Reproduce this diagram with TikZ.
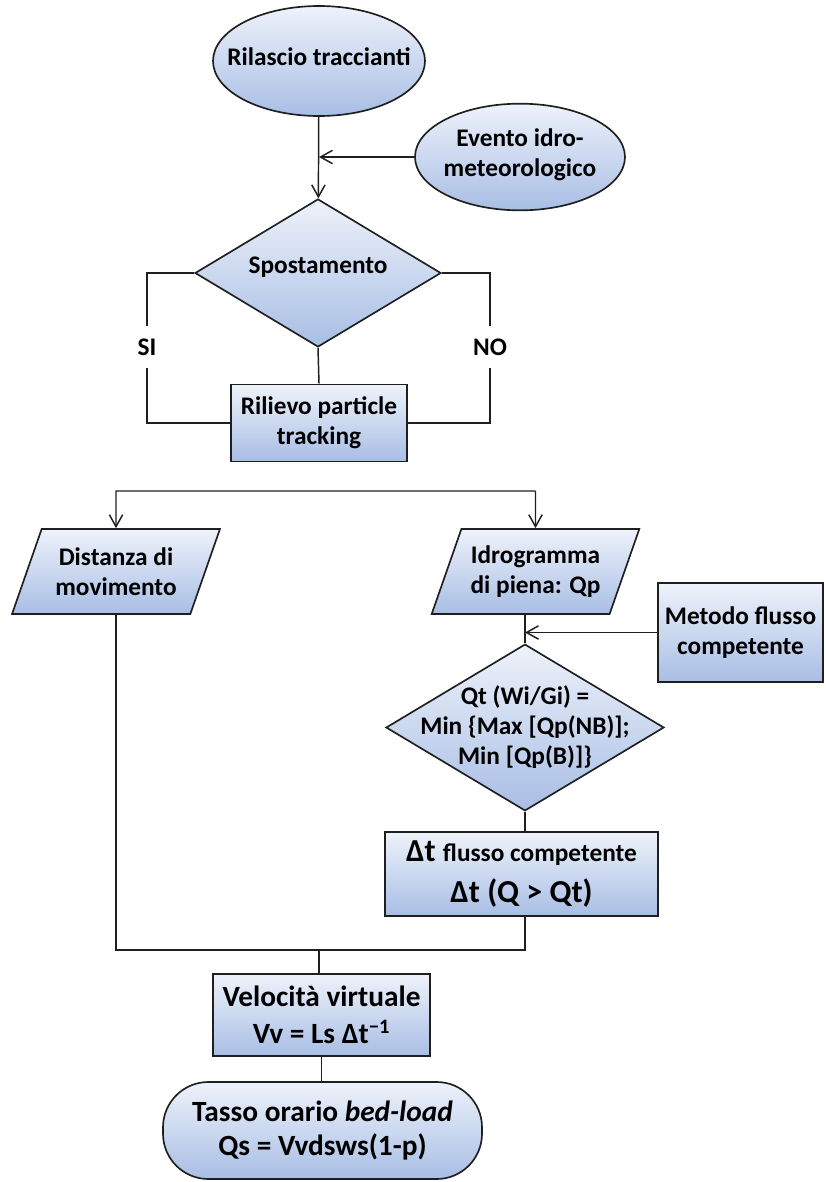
\documentclass[tikz,border=0pt]{standalone}
\usepackage{fontspec}
\setmainfont{Carlito}
\usetikzlibrary{arrows.meta, shapes.geometric}
\definecolor{cfilltop}{HTML}{EEF2FA}
\definecolor{cfillbot}{HTML}{A8BEE5}
\definecolor{cedge}{HTML}{1F1F1F}
\tikzset{
  every picture/.style={line width=1.1pt},
  flow/.style={draw=cedge, line width=1.25pt, top color=cfilltop, bottom color=cfillbot, align=center, inner sep=1pt, font=\fontsize{19}{22.5}\selectfont\bfseries},
  box/.style={flow, rectangle},
  event/.style={flow, ellipse},
  decision/.style={flow, diamond},
  data/.style={flow, trapezium, trapezium left angle=64, trapezium right angle=116, trapezium stretches=true},
  terminal/.style={flow, rectangle, rounded corners=34pt},
  inside/.style={font=\fontsize{19}{22.5}\selectfont\bfseries, align=center},
  answer/.style={font=\fontsize{19}{22.5}\selectfont\bfseries, inner xsep=0pt, inner ysep=9pt},
  arrow/.style={-{Straight Barb[length=9pt, width=10pt]}, draw=cedge},
  link/.style={draw=cedge},
}

\begin{document}
\begin{tikzpicture}[x=0.75pt, y=-0.75pt]
  \useasboundingbox (0,0) rectangle (825,1182);
  % rilascio e spostamento
  \node[event, minimum width=159pt, minimum height=82.5pt, label={[inside, yshift=3pt]center:Rilascio traccianti}] (rilascio) at (319,61) {};
  \node[event, minimum width=157.5pt, minimum height=80pt, label={[inside, yshift=2pt]center:Evento idro-\\meteorologico}] (evento) at (520,157) {};
  \node[decision, minimum width=184.5pt, minimum height=111pt, label={[inside, yshift=4.5pt]center:Spostamento}] (spost) at (318,273) {};
  \node[box, minimum width=132pt, minimum height=57.75pt] (rilievo) at (319,423) {Rilievo particle\\tracking};
  \node[answer] (si) at (147,347) {SI};
  \node[answer] (no) at (490,347) {NO};
  \draw[arrow] (rilascio) -- (spost);
  \draw[arrow] (evento.west) -- (evento.west -| rilascio.south);
  \draw[link] (spost.west) -| (si.north);
  \draw[link] (si.south) |- (rilievo.west);
  \draw[link] (spost.east) -| (no.north);
  \draw[link] (no.south) |- (rilievo.east);
  \draw[link] (spost.south) -- (rilievo.north);
  % dati di ingresso
  \coordinate (splitL) at (116,491);
  \coordinate (splitR) at (535.5,491);
  \node[data, minimum width=156pt, minimum height=63.75pt] (distanza) at (116,571.5) {Distanza di\\movimento};
  \node[data, minimum width=156pt, minimum height=63.75pt] (idro) at (535.5,571.5) {Idrogramma\\di piena: Qp};
  \node[box, minimum width=123.75pt, minimum height=74.25pt] (metodo) at (740.5,632.5) {Metodo flusso\\competente};
  \draw[arrow] (splitR) -- (splitL) -- (distanza.north);
  \draw[arrow] (splitR) -- (idro.north);
  % flusso competente
  \node[decision, minimum width=208.5pt, minimum height=125pt, label={[inside]center:Qt (Wi/Gi) =\\Min \{Max [Qp(NB)];\\Min [Qp(B)]\}}] (qt) at (525,727.5) {};
  \node[box, minimum width=204.75pt, minimum height=63pt, font=\fontsize{24}{31}\selectfont\bfseries] (dt) at (521.5,874) {Δt {\fontsize{19}{31}\selectfont flusso competente}\\Δt (Q > Qt)};
  \draw[link] (idro.south -| qt.north) -- (qt.north);
  \draw[arrow] (metodo.west) -- (metodo.west -| qt.north);
  \draw[link] (qt.south) -- (qt.south |- dt.north);
  % velocita e trasporto
  \coordinate (merge) at (319,950);
  \node[box, minimum width=162.75pt, minimum height=61.5pt, font=\fontsize{22}{27.5}\selectfont\bfseries] (velocita) at (321.5,1015) {Velocità virtuale\\Vv = Ls Δt\textsuperscript{−1}};
  \node[terminal, minimum width=239.25pt, minimum height=72.75pt, font=\fontsize{22}{26}\selectfont\bfseries] (tasso) at (322.5,1130.5) {Tasso orario \textit{bed-load}\\Qs = Vvdsws(1-p)};
  \draw[link] (qt.south |- dt.south) |- (merge) -| (distanza.south);
  \draw[link] (merge) -- (merge |- velocita.north);
  \draw[link] (velocita.south) -- (velocita.south |- tasso.north);
\end{tikzpicture}
\end{document}
